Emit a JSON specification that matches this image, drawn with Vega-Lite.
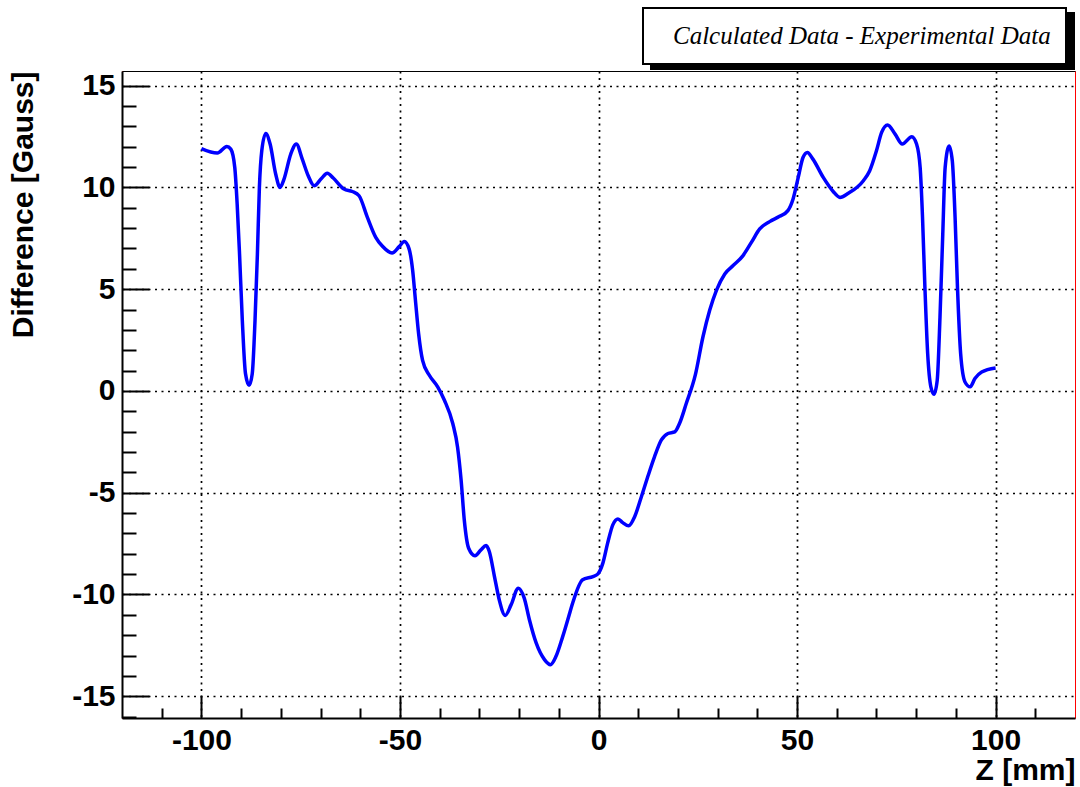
{
  "$schema": "https://vega.github.io/schema/vega-lite/v6.json",
  "width": 953,
  "height": 647,
  "autosize": {"type": "none"},
  "padding": {"left": 122, "top": 71, "right": 5, "bottom": 69},
  "background": "white",
  "config": {
    "view": {"stroke": "#ff0000", "strokeWidth": 1},
    "legend": {"strokeWidth": 2}
  },
  "datasets": {
    "diff": [
      {"z": -100, "d": 11.91}, {"z": -96.0, "d": 11.69}, {"z": -93.6, "d": 12.01}, {"z": -92.6, "d": 11.88},
      {"z": -91.6, "d": 10.98}, {"z": -91.0, "d": 9.19}, {"z": -90.4, "d": 6.73}, {"z": -89.7, "d": 3.47},
      {"z": -88.9, "d": 0.85}, {"z": -88.0, "d": 0.28}, {"z": -87.2, "d": 0.85}, {"z": -86.5, "d": 3.47},
      {"z": -85.9, "d": 6.73}, {"z": -85.4, "d": 10.0}, {"z": -84.8, "d": 11.8}, {"z": -83.8, "d": 12.65},
      {"z": -82.7, "d": 12.13}, {"z": -81.3, "d": 10.66}, {"z": -80.2, "d": 10.0}, {"z": -79.2, "d": 10.41},
      {"z": -77.5, "d": 11.64}, {"z": -76.1, "d": 12.13}, {"z": -74.6, "d": 11.39}, {"z": -73.1, "d": 10.57},
      {"z": -71.6, "d": 10.08}, {"z": -69.9, "d": 10.41}, {"z": -68.3, "d": 10.7}, {"z": -66.8, "d": 10.46},
      {"z": -64.1, "d": 9.92}, {"z": -62.0, "d": 9.8}, {"z": -60.3, "d": 9.59}, {"z": -58.2, "d": 8.53},
      {"z": -56.1, "d": 7.55}, {"z": -54.4, "d": 7.11}, {"z": -52.0, "d": 6.78}, {"z": -50.2, "d": 7.09},
      {"z": -48.9, "d": 7.34}, {"z": -47.7, "d": 6.98}, {"z": -46.8, "d": 5.92}, {"z": -46.1, "d": 4.45},
      {"z": -45.3, "d": 2.81}, {"z": -44.3, "d": 1.5}, {"z": -42.6, "d": 0.77}, {"z": -40.5, "d": 0.2},
      {"z": -38.8, "d": -0.46}, {"z": -36.7, "d": -1.6}, {"z": -35.5, "d": -2.75}, {"z": -34.6, "d": -4.38},
      {"z": -33.8, "d": -6.34}, {"z": -32.7, "d": -7.73}, {"z": -31.1, "d": -8.1}, {"z": -29.6, "d": -7.81},
      {"z": -28.3, "d": -7.6}, {"z": -27.5, "d": -7.89}, {"z": -26.2, "d": -9.12}, {"z": -25.0, "d": -10.26},
      {"z": -23.5, "d": -11.03}, {"z": -22.0, "d": -10.5}, {"z": -20.2, "d": -9.69}, {"z": -18.7, "d": -10.18},
      {"z": -17.4, "d": -11.24}, {"z": -15.7, "d": -12.38}, {"z": -13.6, "d": -13.2}, {"z": -12.1, "d": -13.45},
      {"z": -10.7, "d": -13.04}, {"z": -9.0, "d": -12.06}, {"z": -7.5, "d": -11.08}, {"z": -6.5, "d": -10.42},
      {"z": -4.0, "d": -9.28}, {"z": -1.4, "d": -9.12}, {"z": -0.2, "d": -9.0}, {"z": 1.1, "d": -8.46},
      {"z": 2.3, "d": -7.48}, {"z": 3.6, "d": -6.58}, {"z": 4.9, "d": -6.29}, {"z": 6.1, "d": -6.47},
      {"z": 7.6, "d": -6.63}, {"z": 9.1, "d": -6.18}, {"z": 10.8, "d": -5.2}, {"z": 12.4, "d": -4.22},
      {"z": 14.1, "d": -3.24}, {"z": 15.8, "d": -2.42}, {"z": 17.5, "d": -2.09}, {"z": 19.2, "d": -2.01},
      {"z": 20.4, "d": -1.6}, {"z": 22.1, "d": -0.62}, {"z": 24.4, "d": 0.8}, {"z": 26.3, "d": 2.65},
      {"z": 28.0, "d": 3.96}, {"z": 29.7, "d": 4.94}, {"z": 31.8, "d": 5.75}, {"z": 33.9, "d": 6.16},
      {"z": 36.4, "d": 6.65}, {"z": 38.5, "d": 7.3}, {"z": 40.6, "d": 7.96}, {"z": 43.1, "d": 8.32},
      {"z": 45.6, "d": 8.58}, {"z": 47.7, "d": 8.86}, {"z": 49.0, "d": 9.43}, {"z": 50.3, "d": 10.49},
      {"z": 51.5, "d": 11.47}, {"z": 52.6, "d": 11.72}, {"z": 54.0, "d": 11.39}, {"z": 56.6, "d": 10.49},
      {"z": 59.1, "d": 9.8}, {"z": 60.8, "d": 9.51}, {"z": 62.9, "d": 9.71}, {"z": 66.7, "d": 10.33},
      {"z": 68.3, "d": 10.82}, {"z": 70.0, "d": 11.8}, {"z": 71.3, "d": 12.7}, {"z": 72.8, "d": 13.07},
      {"z": 74.7, "d": 12.62}, {"z": 76.5, "d": 12.13}, {"z": 78.9, "d": 12.49}, {"z": 80.1, "d": 12.13},
      {"z": 81.0, "d": 10.98}, {"z": 81.6, "d": 8.53}, {"z": 82.2, "d": 5.1}, {"z": 82.9, "d": 1.83},
      {"z": 83.7, "d": 0.2}, {"z": 84.5, "d": -0.16}, {"z": 85.3, "d": 0.52}, {"z": 86.0, "d": 3.63},
      {"z": 86.7, "d": 7.72}, {"z": 87.3, "d": 10.98}, {"z": 88.3, "d": 12.04}, {"z": 89.1, "d": 11.31},
      {"z": 89.8, "d": 8.53}, {"z": 90.4, "d": 5.1}, {"z": 91.2, "d": 1.83}, {"z": 92.3, "d": 0.44},
      {"z": 93.6, "d": 0.2}, {"z": 94.8, "d": 0.61}, {"z": 96.5, "d": 0.93}, {"z": 100, "d": 1.13}
    ]
  },
  "data": {"name": "diff"},
  "layer": [
    {
      "mark": {"type": "line", "strokeOpacity": 0},
      "encoding": {
        "x": {
          "field": "z", "type": "quantitative",
          "scale": {"domain": [-120, 120], "nice": false, "zero": false},
          "axis": {
            "orient": "bottom", "values": [-110, -90, -80, -70, -60, -40, -30, -20, -10, 10, 20, 30, 40, 60, 70, 80, 90, 110],
            "tickSize": -10, "tickWidth": 2, "tickColor": "black",
            "labels": false, "domain": false, "grid": false, "title": null
          }
        },
        "y": {
          "field": "d", "type": "quantitative",
          "scale": {"domain": [-16.07, 15.72], "nice": false, "zero": false},
          "axis": {
            "orient": "left", "values": [-16, -14, -13, -12, -11, -9, -8, -7, -6, -4, -3, -2, -1, 1, 2, 3, 4, 6, 7, 8, 9, 11, 12, 13, 14],
            "tickSize": -14, "tickWidth": 2, "tickColor": "black",
            "labels": false, "domain": false, "grid": false, "title": null
          }
        },
        "color": {
          "datum": "Calculated Data - Experimental Data",
          "scale": {"range": ["#000000"]},
          "legend": {
            "orient": "none", "legendX": 529, "legendY": -58, "title": null,
            "fillColor": "black", "strokeColor": "black", "padding": 15,
            "symbolSize": 0, "symbolOpacity": 0, "labelOffset": -10,
            "labelFont": "Liberation Serif", "labelFontStyle": "italic", "labelFontSize": 25,
            "labelColor": "black", "labelOpacity": 0, "labelLimit": 0, "zindex": 1
          }
        }
      }
    },
    {
      "mark": {"type": "line", "strokeOpacity": 0},
      "encoding": {
        "x": {
          "field": "z", "type": "quantitative",
          "axis": {
            "orient": "bottom", "values": [-100, -50, 0, 50, 100],
            "tickSize": -22, "tickWidth": 2, "tickColor": "black",
            "labels": false, "domain": false, "grid": false, "title": null
          }
        },
        "y": {
          "field": "d", "type": "quantitative",
          "axis": {
            "orient": "left", "values": [-15, -10, -5, 0, 5, 10, 15],
            "tickSize": -27, "tickWidth": 2, "tickColor": "black",
            "labels": false, "domain": false, "grid": false, "title": null
          }
        }
      }
    },
    {
      "mark": {"type": "line", "strokeOpacity": 0},
      "encoding": {
        "x": {
          "field": "z", "type": "quantitative",
          "axis": {
            "orient": "top", "ticks": false, "labels": false, "grid": false, "title": null,
            "domain": true, "domainColor": "black", "domainWidth": 1
          }
        },
        "y": {"field": "d", "type": "quantitative", "axis": null}
      }
    },
    {
      "mark": {"type": "line", "strokeWidth": 3.5, "interpolate": "monotone"},
      "encoding": {
        "x": {
          "field": "z", "type": "quantitative",
          "axis": {
            "orient": "bottom", "values": [-100, -50, 0, 50, 100], "ticks": false,
            "labelExpr": "datum.value < 0 ? '-' + abs(datum.value) : '' + datum.value",
            "labelFont": "Liberation Sans", "labelFontWeight": "bold", "labelFontSize": 30,
            "labelColor": "black", "labelPadding": 7,
            "domain": true, "domainColor": "black", "domainWidth": 2,
            "grid": true, "gridColor": "black", "gridDash": [2, 4.5], "gridWidth": 1.7, "gridOpacity": 1,
            "title": "Z [mm]", "titleFont": "Liberation Sans", "titleFontWeight": "bold", "titleFontSize": 30,
            "titleColor": "black", "titleAnchor": "end", "titlePadding": 0
          }
        },
        "y": {
          "field": "d", "type": "quantitative",
          "axis": {
            "orient": "left", "values": [-15, -10, -5, 0, 5, 10, 15], "ticks": false,
            "labelExpr": "datum.value < 0 ? '-' + abs(datum.value) : '' + datum.value",
            "labelFont": "Liberation Sans", "labelFontWeight": "bold", "labelFontSize": 30,
            "labelColor": "black", "labelPadding": 7,
            "domain": true, "domainColor": "black", "domainWidth": 2,
            "grid": true, "gridColor": "black", "gridDash": [2, 4.5], "gridWidth": 1.7, "gridOpacity": 1,
            "title": "Difference [Gauss]", "titleFont": "Liberation Sans", "titleFontWeight": "bold", "titleFontSize": 30,
            "titleColor": "black", "titleAnchor": "end", "titlePadding": 33
          }
        },
        "color": {
          "datum": "Calculated Data - Experimental Data",
          "scale": {"range": ["#0000ff"]},
          "legend": {
            "orient": "none", "legendX": 521, "legendY": -63, "title": null,
            "fillColor": "white", "strokeColor": "black", "padding": 15,
            "symbolSize": 0, "symbolOpacity": 0, "labelOffset": -10,
            "labelFont": "Liberation Serif", "labelFontStyle": "italic", "labelFontSize": 25,
            "labelColor": "black", "labelLimit": 0, "zindex": 2
          }
        }
      }
    }
  ],
  "resolve": {
    "axis": {"x": "independent", "y": "independent"},
    "scale": {"color": "independent"},
    "legend": {"color": "independent"}
  }
}
